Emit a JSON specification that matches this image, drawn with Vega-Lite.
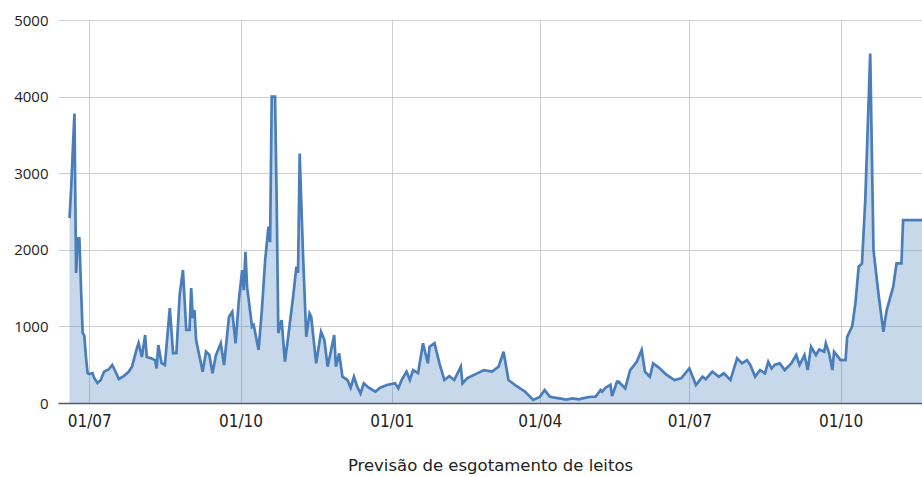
{
  "$schema": "https://vega.github.io/schema/vega-lite/v6.json",
  "description": "Previsão de esgotamento de leitos",
  "autosize": {"type": "none"},
  "width": 864,
  "height": 383,
  "padding": {"left": 58, "top": 20, "right": 0, "bottom": 74},
  "background": "white",
  "config": {"view": {"stroke": null}},
  "data": {
    "values": [
      {"d": "2020-06-19", "v": 2414}, {"d": "2020-06-20", "v": 2800}, {"d": "2020-06-21", "v": 3300},
      {"d": "2020-06-22", "v": 3780}, {"d": "2020-06-23", "v": 1697}, {"d": "2020-06-24", "v": 2150},
      {"d": "2020-06-25", "v": 2150}, {"d": "2020-06-26", "v": 1500}, {"d": "2020-06-27", "v": 913},
      {"d": "2020-06-28", "v": 880}, {"d": "2020-06-29", "v": 600}, {"d": "2020-06-30", "v": 391},
      {"d": "2020-07-01", "v": 378}, {"d": "2020-07-03", "v": 391}, {"d": "2020-07-04", "v": 326},
      {"d": "2020-07-06", "v": 261}, {"d": "2020-07-08", "v": 300}, {"d": "2020-07-10", "v": 408},
      {"d": "2020-07-13", "v": 443}, {"d": "2020-07-15", "v": 496}, {"d": "2020-07-17", "v": 408},
      {"d": "2020-07-19", "v": 313}, {"d": "2020-07-22", "v": 352}, {"d": "2020-07-25", "v": 408},
      {"d": "2020-07-27", "v": 474}, {"d": "2020-07-30", "v": 717}, {"d": "2020-07-31", "v": 783},
      {"d": "2020-08-02", "v": 600}, {"d": "2020-08-04", "v": 887}, {"d": "2020-08-05", "v": 600},
      {"d": "2020-08-08", "v": 580}, {"d": "2020-08-10", "v": 560}, {"d": "2020-08-11", "v": 450},
      {"d": "2020-08-12", "v": 757}, {"d": "2020-08-14", "v": 520}, {"d": "2020-08-16", "v": 496},
      {"d": "2020-08-19", "v": 1240}, {"d": "2020-08-21", "v": 652}, {"d": "2020-08-23", "v": 652},
      {"d": "2020-08-25", "v": 1409}, {"d": "2020-08-27", "v": 1736}, {"d": "2020-08-29", "v": 953},
      {"d": "2020-08-31", "v": 953}, {"d": "2020-09-01", "v": 1500}, {"d": "2020-09-02", "v": 1109},
      {"d": "2020-09-03", "v": 1213}, {"d": "2020-09-04", "v": 822}, {"d": "2020-09-05", "v": 717},
      {"d": "2020-09-08", "v": 408}, {"d": "2020-09-10", "v": 670}, {"d": "2020-09-12", "v": 630},
      {"d": "2020-09-14", "v": 388}, {"d": "2020-09-16", "v": 620}, {"d": "2020-09-19", "v": 779},
      {"d": "2020-09-21", "v": 496}, {"d": "2020-09-24", "v": 1126}, {"d": "2020-09-26", "v": 1191},
      {"d": "2020-09-28", "v": 779}, {"d": "2020-09-30", "v": 1344}, {"d": "2020-10-02", "v": 1736},
      {"d": "2020-10-03", "v": 1474}, {"d": "2020-10-04", "v": 1975}, {"d": "2020-10-05", "v": 1518},
      {"d": "2020-10-08", "v": 996}, {"d": "2020-10-09", "v": 1018}, {"d": "2020-10-12", "v": 692},
      {"d": "2020-10-14", "v": 1214}, {"d": "2020-10-16", "v": 1866}, {"d": "2020-10-18", "v": 2301},
      {"d": "2020-10-19", "v": 2100}, {"d": "2020-10-20", "v": 4000}, {"d": "2020-10-21", "v": 4000},
      {"d": "2020-10-22", "v": 4000}, {"d": "2020-10-23", "v": 2650}, {"d": "2020-10-24", "v": 913},
      {"d": "2020-10-26", "v": 1083}, {"d": "2020-10-28", "v": 539}, {"d": "2020-10-30", "v": 865},
      {"d": "2020-11-02", "v": 1387}, {"d": "2020-11-04", "v": 1779}, {"d": "2020-11-05", "v": 1700},
      {"d": "2020-11-06", "v": 3258}, {"d": "2020-11-08", "v": 1953}, {"d": "2020-11-10", "v": 865},
      {"d": "2020-11-12", "v": 1170}, {"d": "2020-11-13", "v": 1128}, {"d": "2020-11-16", "v": 518},
      {"d": "2020-11-19", "v": 930}, {"d": "2020-11-21", "v": 826}, {"d": "2020-11-23", "v": 474},
      {"d": "2020-11-27", "v": 887}, {"d": "2020-11-28", "v": 474}, {"d": "2020-11-30", "v": 648},
      {"d": "2020-12-02", "v": 343}, {"d": "2020-12-05", "v": 300}, {"d": "2020-12-07", "v": 200},
      {"d": "2020-12-09", "v": 343}, {"d": "2020-12-11", "v": 213}, {"d": "2020-12-13", "v": 126},
      {"d": "2020-12-15", "v": 257}, {"d": "2020-12-18", "v": 200}, {"d": "2020-12-22", "v": 148},
      {"d": "2020-12-25", "v": 200}, {"d": "2020-12-29", "v": 235}, {"d": "2021-01-03", "v": 257},
      {"d": "2021-01-05", "v": 191}, {"d": "2021-01-07", "v": 300}, {"d": "2021-01-10", "v": 409},
      {"d": "2021-01-12", "v": 300}, {"d": "2021-01-14", "v": 430}, {"d": "2021-01-17", "v": 390},
      {"d": "2021-01-20", "v": 779}, {"d": "2021-01-23", "v": 517}, {"d": "2021-01-24", "v": 735},
      {"d": "2021-01-27", "v": 779}, {"d": "2021-01-30", "v": 517}, {"d": "2021-02-02", "v": 300},
      {"d": "2021-02-05", "v": 350}, {"d": "2021-02-08", "v": 300}, {"d": "2021-02-12", "v": 474},
      {"d": "2021-02-13", "v": 257}, {"d": "2021-02-16", "v": 326}, {"d": "2021-02-22", "v": 387},
      {"d": "2021-02-26", "v": 430}, {"d": "2021-03-03", "v": 410}, {"d": "2021-03-07", "v": 474},
      {"d": "2021-03-10", "v": 670}, {"d": "2021-03-13", "v": 300}, {"d": "2021-03-17", "v": 235},
      {"d": "2021-03-23", "v": 148}, {"d": "2021-03-28", "v": 40}, {"d": "2021-04-01", "v": 80},
      {"d": "2021-04-04", "v": 170}, {"d": "2021-04-07", "v": 83}, {"d": "2021-04-09", "v": 74},
      {"d": "2021-04-13", "v": 60}, {"d": "2021-04-17", "v": 45}, {"d": "2021-04-21", "v": 60},
      {"d": "2021-04-25", "v": 48}, {"d": "2021-04-27", "v": 61}, {"d": "2021-05-01", "v": 78},
      {"d": "2021-05-05", "v": 83}, {"d": "2021-05-08", "v": 170}, {"d": "2021-05-09", "v": 148},
      {"d": "2021-05-11", "v": 200}, {"d": "2021-05-14", "v": 240}, {"d": "2021-05-15", "v": 90},
      {"d": "2021-05-18", "v": 278}, {"d": "2021-05-19", "v": 278}, {"d": "2021-05-23", "v": 191},
      {"d": "2021-05-26", "v": 430}, {"d": "2021-05-30", "v": 539}, {"d": "2021-06-02", "v": 692},
      {"d": "2021-06-04", "v": 409}, {"d": "2021-06-07", "v": 343}, {"d": "2021-06-09", "v": 518},
      {"d": "2021-06-13", "v": 453}, {"d": "2021-06-17", "v": 370}, {"d": "2021-06-22", "v": 300},
      {"d": "2021-06-26", "v": 322}, {"d": "2021-07-01", "v": 453}, {"d": "2021-07-05", "v": 235},
      {"d": "2021-07-09", "v": 343}, {"d": "2021-07-11", "v": 310}, {"d": "2021-07-15", "v": 409},
      {"d": "2021-07-19", "v": 343}, {"d": "2021-07-22", "v": 387}, {"d": "2021-07-26", "v": 300},
      {"d": "2021-07-30", "v": 583}, {"d": "2021-08-02", "v": 518}, {"d": "2021-08-05", "v": 561},
      {"d": "2021-08-07", "v": 500}, {"d": "2021-08-10", "v": 343}, {"d": "2021-08-13", "v": 430},
      {"d": "2021-08-16", "v": 387}, {"d": "2021-08-18", "v": 539}, {"d": "2021-08-20", "v": 450},
      {"d": "2021-08-22", "v": 500}, {"d": "2021-08-25", "v": 517}, {"d": "2021-08-28", "v": 430},
      {"d": "2021-09-01", "v": 517}, {"d": "2021-09-04", "v": 626}, {"d": "2021-09-06", "v": 496},
      {"d": "2021-09-09", "v": 626}, {"d": "2021-09-11", "v": 430}, {"d": "2021-09-13", "v": 735},
      {"d": "2021-09-16", "v": 626}, {"d": "2021-09-18", "v": 700}, {"d": "2021-09-21", "v": 670},
      {"d": "2021-09-22", "v": 779}, {"d": "2021-09-24", "v": 648}, {"d": "2021-09-26", "v": 430},
      {"d": "2021-09-27", "v": 670}, {"d": "2021-10-01", "v": 561}, {"d": "2021-10-04", "v": 561},
      {"d": "2021-10-05", "v": 865}, {"d": "2021-10-08", "v": 996}, {"d": "2021-10-10", "v": 1301},
      {"d": "2021-10-12", "v": 1779}, {"d": "2021-10-14", "v": 1822}, {"d": "2021-10-16", "v": 2650},
      {"d": "2021-10-19", "v": 4563}, {"d": "2021-10-21", "v": 1997}, {"d": "2021-10-24", "v": 1431},
      {"d": "2021-10-27", "v": 930}, {"d": "2021-10-29", "v": 1210}, {"d": "2021-11-02", "v": 1518},
      {"d": "2021-11-04", "v": 1822}, {"d": "2021-11-07", "v": 1822}, {"d": "2021-11-08", "v": 2388},
      {"d": "2021-11-21", "v": 2388}
    ]
  },
  "encoding": {
    "x": {
      "field": "d",
      "type": "temporal",
      "scale": {
        "type": "utc",
        "domain": [
          {"year": 2020, "month": 6, "date": 12, "utc": true},
          {"year": 2021, "month": 11, "date": 19, "hours": 12, "utc": true}
        ]
      },
      "axis": {
        "title": "Previsão de esgotamento de leitos",
        "titleFont": "DejaVu Sans",
        "titleFontSize": 16.5,
        "titleFontWeight": "normal",
        "titleColor": "#222222",
        "titlePadding": 28,
        "values": [
          {"year": 2020, "month": 7, "date": 1, "utc": true},
          {"year": 2020, "month": 10, "date": 1, "utc": true},
          {"year": 2021, "month": 1, "date": 1, "utc": true},
          {"year": 2021, "month": 4, "date": 1, "utc": true},
          {"year": 2021, "month": 7, "date": 1, "utc": true},
          {"year": 2021, "month": 10, "date": 1, "utc": true}
        ],
        "labelExpr": "utcFormat(datum.value, '%d/%m')",
        "labelFont": "DejaVu Sans Condensed, Liberation Sans",
        "labelFontSize": 17,
        "labelColor": "#222222",
        "labelPadding": 10,
        "labelFlush": false,
        "ticks": false,
        "domainColor": "#595959",
        "domainWidth": 1.5,
        "gridColor": "#cfcfcf",
        "gridWidth": 1
      }
    },
    "y": {
      "field": "v",
      "type": "quantitative",
      "scale": {"domain": [0, 5000], "nice": false},
      "axis": {
        "title": null,
        "values": [0, 1000, 2000, 3000, 4000, 5000],
        "format": "d",
        "labelFont": "Open Sans",
        "labelFontSize": 15,
        "labelColor": "#222222",
        "labelPadding": 10,
        "ticks": false,
        "domain": false,
        "gridColor": "#cfcfcf",
        "gridWidth": 1
      }
    }
  },
  "layer": [
    {"mark": {"type": "area", "color": "#4f81bd", "opacity": 0.31, "clip": true}},
    {"mark": {"type": "line", "color": "#4a7ebb", "strokeWidth": 2.7, "clip": true}}
  ]
}
